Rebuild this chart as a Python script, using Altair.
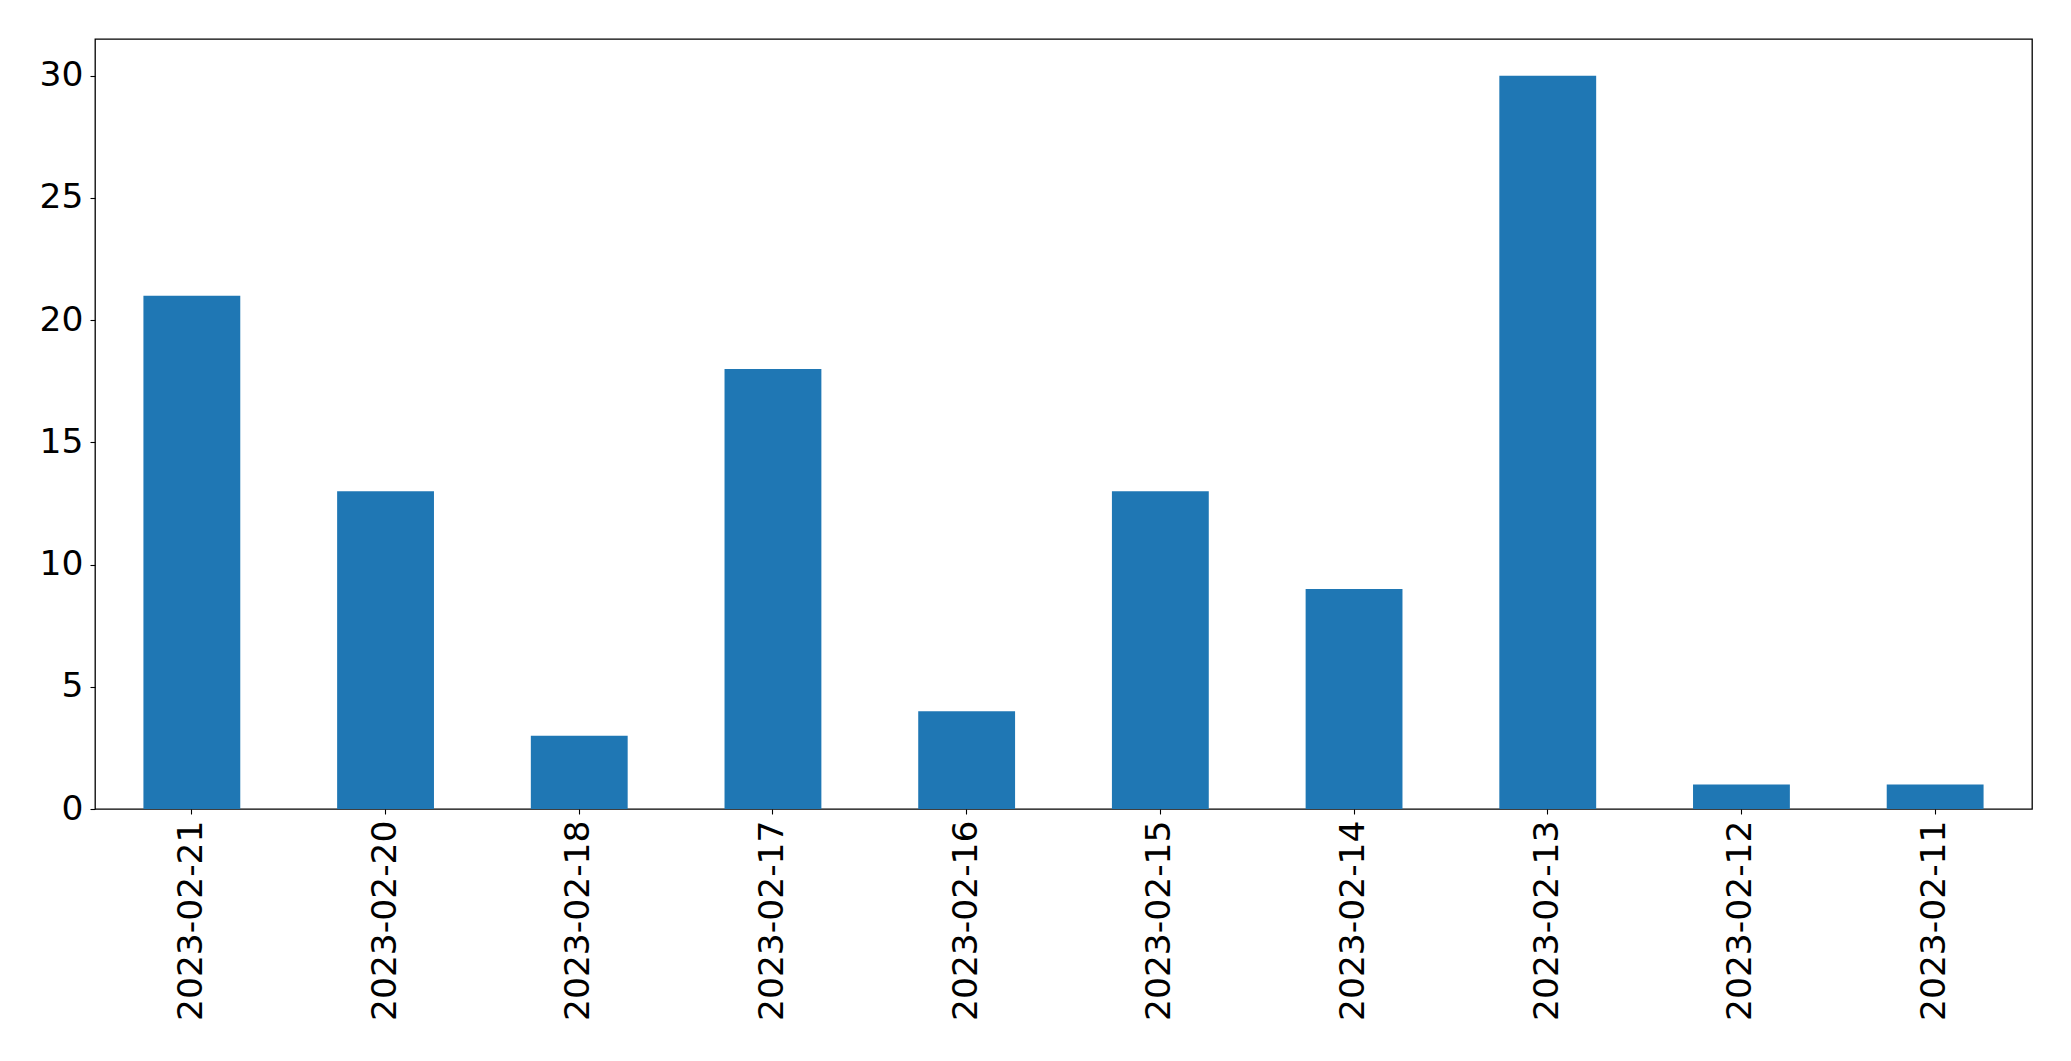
import altair as alt
import pandas as pd

dates = ["2023-02-21", "2023-02-20", "2023-02-18", "2023-02-17", "2023-02-16",
         "2023-02-15", "2023-02-14", "2023-02-13", "2023-02-12", "2023-02-11"]
counts = [21, 13, 3, 18, 4, 13, 9, 30, 1, 1]
y_ticks = [0, 5, 10, 15, 20, 25, 30]

df = pd.DataFrame({"date": dates, "count": counts})

FONT = "DejaVu Sans"
FS = 34.5

chart = alt.Chart(df).mark_bar(color="#1f77b4").encode(
    x=alt.X("date:N", sort=dates, title=None,
            scale=alt.Scale(paddingInner=0.5, paddingOuter=0.25),
            axis=alt.Axis(labelAngle=270, labelFontSize=FS, labelFont=FONT,
                          labelColor="black", tickColor="black", tickSize=5,
                          tickWidth=1.1, labelPadding=6, domain=False,
                          labelLimit=0,
                          labelAlign="right", labelBaseline="middle")),
    y=alt.Y("count:Q", title=None,
            scale=alt.Scale(domain=[0, 31.5], nice=False, zero=True),
            axis=alt.Axis(values=y_ticks, grid=False, labelFontSize=FS, labelFont=FONT,
                          labelColor="black", tickColor="black", tickSize=5,
                          tickWidth=1.1, labelPadding=7, domain=False)),
).properties(
    width=1937,
    height=770,
    background="white",
    autosize=alt.AutoSizeParams(type="none"),
    padding={"left": 87, "top": 31, "right": 30, "bottom": 240},
).configure_view(
    stroke="black", strokeWidth=1.3
)

chart.save("out.html", embed_options={"renderer": "svg", "actions": False})
